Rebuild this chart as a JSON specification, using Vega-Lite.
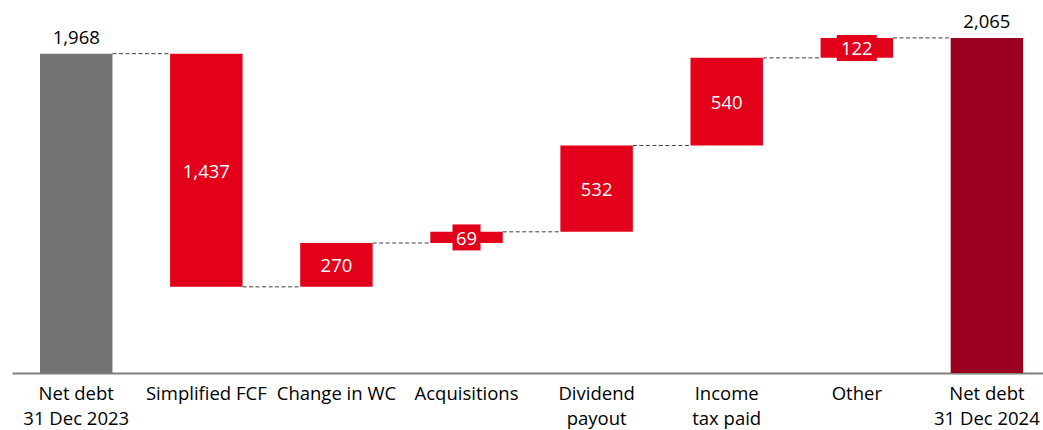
{
  "$schema": "https://vega.github.io/schema/vega-lite/v6.json",
  "autosize": {"type": "none"},
  "padding": {"left": 12, "top": 16, "right": 0, "bottom": 57},
  "width": 1031,
  "height": 357,
  "background": "white",
  "config": {"view": {"stroke": null}, "font": "Open Sans"},
  "data": {"values": [
    {"cat": "Net debt|31 Dec 2023", "start": 0, "end": 1968, "label": "1,968", "kind": "open", "next": "Simplified FCF"},
    {"cat": "Simplified FCF", "start": 1968, "end": 531, "label": "1,437", "kind": "step", "next": "Change in WC"},
    {"cat": "Change in WC", "start": 531, "end": 801, "label": "270", "kind": "step", "next": "Acquisitions"},
    {"cat": "Acquisitions", "start": 801, "end": 870, "label": "69", "kind": "step", "next": "Dividend|payout"},
    {"cat": "Dividend|payout", "start": 870, "end": 1402, "label": "532", "kind": "step", "next": "Income|tax paid"},
    {"cat": "Income|tax paid", "start": 1402, "end": 1942, "label": "540", "kind": "step", "next": "Other"},
    {"cat": "Other", "start": 1942, "end": 2065, "label": "122", "kind": "step", "next": "Net debt|31 Dec 2024"},
    {"cat": "Net debt|31 Dec 2024", "start": 0, "end": 2065, "label": "2,065", "kind": "close", "next": null}
  ]},
  "transform": [{"calculate": "(datum.start + datum.end) / 2", "as": "mid"}],
  "encoding": {
    "x": {
      "field": "cat", "type": "nominal", "sort": null,
      "scale": {"paddingInner": 0.443, "paddingOuter": 0.184, "align": 0.585},
      "axis": {
        "title": null, "labelAngle": 0, "ticks": false, "domainColor": "#7f7f7f", "domainWidth": 2,
        "labelFont": "Open Sans", "labelFontSize": 18.5, "labelColor": "#000000",
        "labelPadding": 11, "labelLineHeight": 25,
        "labelExpr": "split(datum.label, '|')"
      }
    }
  },
  "layer": [
    {
      "mark": {"type": "bar"},
      "encoding": {
        "y": {"field": "start", "type": "quantitative", "scale": {"domain": [0, 2200]}, "axis": null},
        "y2": {"field": "end"},
        "color": {"field": "kind", "type": "nominal", "legend": null,
          "scale": {"domain": ["open", "step", "close"], "range": ["#737373", "#E2001A", "#9B0020"]}}
      }
    },
    {
      "transform": [{"filter": "datum.next != null"}],
      "mark": {"type": "rule", "strokeDash": [4, 2.5], "color": "#404040", "strokeWidth": 1},
      "encoding": {
        "x": {"field": "cat", "type": "nominal", "sort": null, "bandPosition": 1},
        "x2": {"field": "next", "bandPosition": 0},
        "y": {"field": "end", "type": "quantitative"}
      }
    },
    {
      "transform": [{"filter": "datum.kind == 'step' && abs(datum.end - datum.start) < 150"}],
      "mark": {"type": "tick", "orient": "horizontal", "thickness": 26, "color": "#E2001A", "opacity": 1},
      "encoding": {
        "y": {"field": "mid", "type": "quantitative"},
        "size": {"condition": {"test": "length(datum.label) < 3", "value": 28}, "value": 40}
      }
    },
    {
      "transform": [{"filter": "datum.kind == 'step'"}],
      "mark": {"type": "text", "color": "white", "fontSize": 18.5, "font": "Open Sans", "baseline": "middle", "dy": 1.5},
      "encoding": {
        "y": {"field": "mid", "type": "quantitative"},
        "text": {"field": "label"}
      }
    },
    {
      "transform": [{"filter": "datum.kind != 'step'"}],
      "mark": {"type": "text", "color": "#000000", "fontSize": 18.5, "font": "Open Sans", "baseline": "alphabetic", "dy": -10},
      "encoding": {
        "y": {"field": "end", "type": "quantitative"},
        "text": {"field": "label"}
      }
    }
  ]
}
